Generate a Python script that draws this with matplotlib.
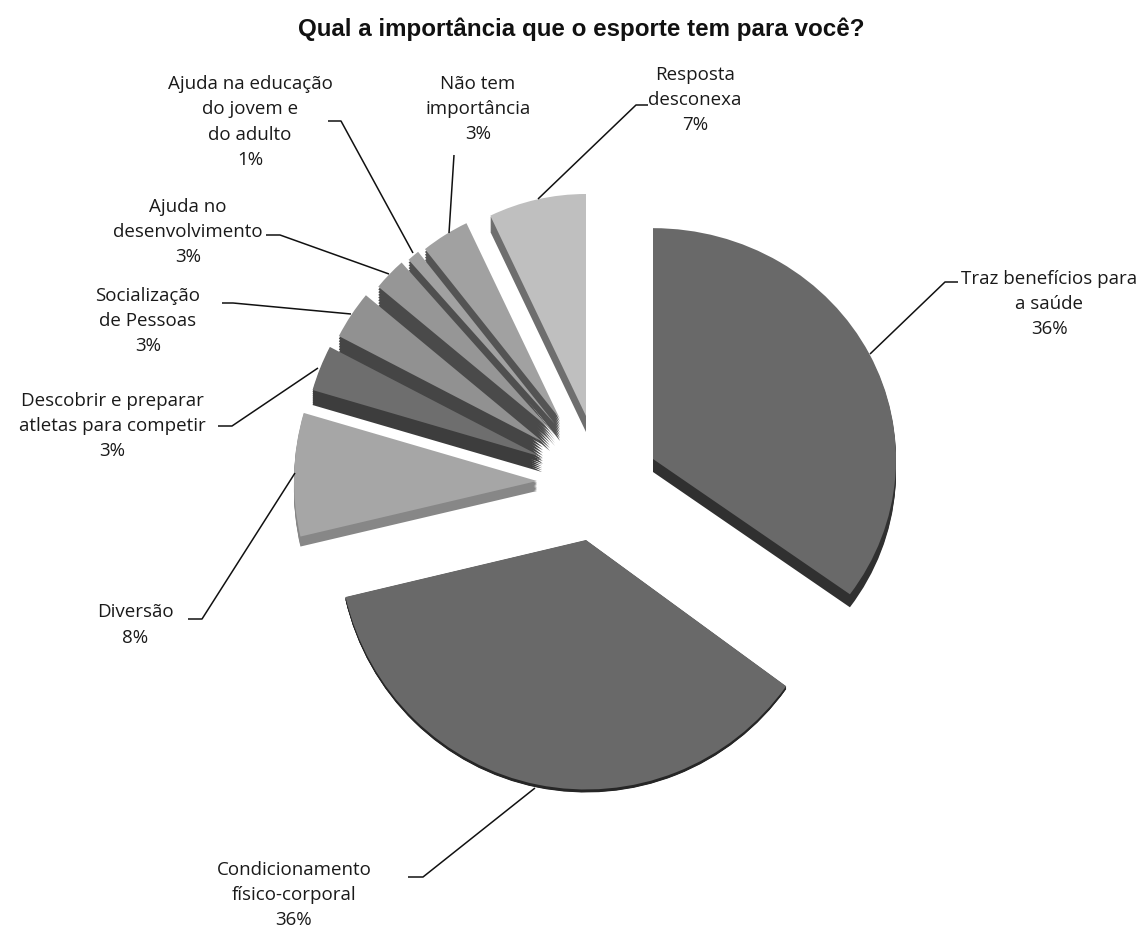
import matplotlib
matplotlib.use("Agg")
import matplotlib.pyplot as plt
from matplotlib.transforms import Affine2D

title = "Qual a importância que o esporte tem para você?"
categories = ["Traz benefícios para\na saúde", "Condicionamento\nfísico-corporal", "Diversão",
              "Descobrir e preparar\natletas para competir", "Socialização\nde Pessoas",
              "Ajuda no\ndesenvolvimento", "Ajuda na educação\ndo jovem e\ndo adulto",
              "Não tem\nimportância", "Resposta\ndesconexa"]
percent_labels = [36, 36, 8, 3, 3, 3, 1, 3, 7]
# drawn share of each slice, as measured from the angles in the picture
shares = [35.0, 36.4, 8.2, 3.1, 3.4, 2.4, 0.9, 3.6, 7.1]

top_grey = [0.41, 0.41, 0.65, 0.43, 0.57, 0.59, 0.63, 0.63, 0.75]
side_grey = [0.19, 0.15, 0.53, 0.24, 0.27, 0.29, 0.31, 0.33, 0.43]
apex = [(653, 460), (586, 541), (537, 482), (542, 458), (543, 443), (550, 430), (555, 425), (560, 420), (586, 417)]
radii = [243, 247, 243, 239, 230, 223, 220, 217, 222]
y_scale = [0.95, 1.01, 1, 1, 1, 1, 1, 1, 1]
depth = [13, 3, 10, 15, 22, 22, 22, 22, 16]
zorders = [12, 12, 11, 10, 9, 8, 7, 6, 5]
layer_steps = [0.125, 0.25, 0.375, 0.5, 0.625, 0.75, 0.875, 1.0]

label_pos = [(1049, 304), (294, 895), (135, 625), (112, 426), (148, 321), (188, 232), (250, 122), (478, 109), (695, 100)]
leaders = [[(870, 355), (945, 283), (958, 283)],
           [(535, 789), (423, 878), (408, 878)],
           [(295, 474), (202, 620), (188, 620)],
           [(318, 369), (232, 427), (218, 427)],
           [(351, 315), (233, 304), (222, 304)],
           [(389, 275), (280, 236), (266, 236)],
           [(413, 254), (341, 122), (328, 122)],
           [(449, 234), (454, 156)],
           [(538, 200), (636, 106), (648, 106)]]

LABEL_FONT = "Open Sans"

fig = plt.figure(figsize=(11.47, 9.29), dpi=100, facecolor="white")
ax = fig.add_axes([0, 0, 1, 1])


def place(wedge, i, drop, z):
    x, y = apex[i]
    cy = -y - drop
    wedge.set_center((x, cy))
    wedge.set_radius(radii[i])
    wedge.set_zorder(z)
    wedge.set_transform(Affine2D().translate(-x, -cy).scale(1, y_scale[i]).translate(x, cy) + ax.transData)


for step in layer_steps:
    layer, _ = ax.pie(shares, startangle=90, counterclock=False, colors=[str(g) for g in side_grey])
    for i, wedge in enumerate(layer):
        place(wedge, i, depth[i] * step, zorders[i])
tops, _ = ax.pie(shares, startangle=90, counterclock=False, colors=[str(g) for g in top_grey])
for i, wedge in enumerate(tops):
    place(wedge, i, 0, zorders[i] + 0.5)

ax.set_aspect("auto")
ax.set_xlim(0, 1147)
ax.set_ylim(-929, 0)
ax.set_axis_off()

for name, pct, (x, y), path in zip(categories, percent_labels, label_pos, leaders):
    ax.text(x, -y, f"{name}\n{pct}%", ha="center", va="center", multialignment="center",
            fontsize=13.5, family=LABEL_FONT, color="#1a1a1a", linespacing=1.51, zorder=20)
    ax.plot([p[0] for p in path], [-p[1] for p in path], color="#111111", lw=1.1, zorder=15,
            solid_capstyle="butt")

ax.text(581, -29, title, ha="center", va="center", fontsize=17.35, fontweight="bold",
        family="Liberation Sans", color="#111111")

fig.savefig("out.png", dpi=100)
